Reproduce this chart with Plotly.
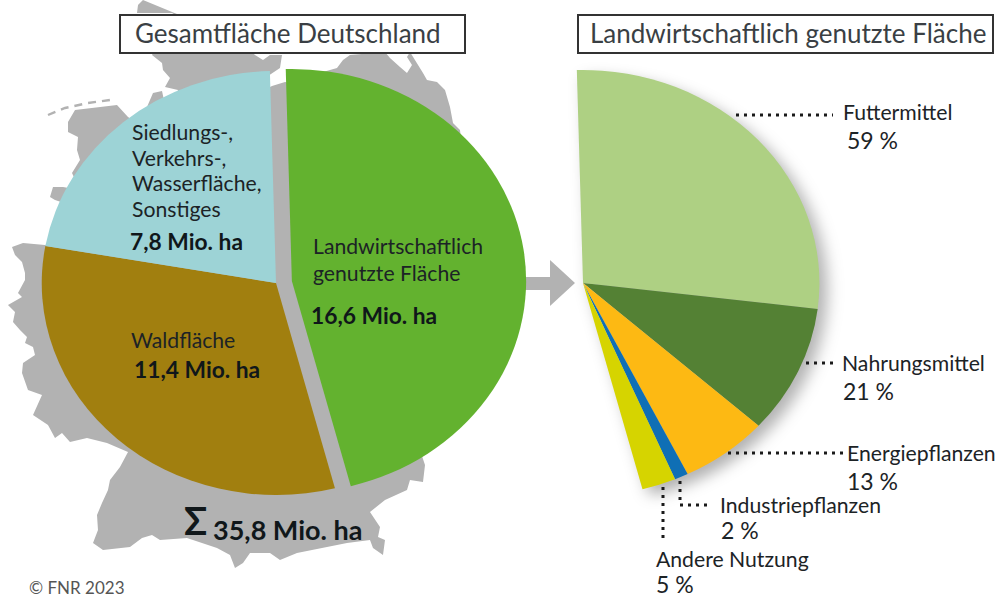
import plotly.graph_objects as go

# ---------- data ----------
land_labels = ["Landwirtschaftlich genutzte Fläche", "Waldfläche", "Siedlungs-, Verkehrs-, Wasserfläche, Sonstiges"]
land_values = [16.6, 11.4, 7.8]
land_colors = ["#63B22F", "#A17F0F", "#9DD3D6"]

use_labels = ["Futtermittel", "Nahrungsmittel", "Energiepflanzen", "Industriepflanzen", "Andere Nutzung"]
use_values = [59, 21, 13, 2, 5]
use_colors = ["#AED083", "#548134", "#FDB913", "#0F6FB5", "#D6D400"]

total_label = "35,8 Mio. ha"
titles = ["Gesamtfläche Deutschland", "Landwirtschaftlich genutzte Fläche"]
credit = "© FNR 2023"

# ---------- layout helpers (pixel positions on the 997x597 page) ----------
W, H = 997, 597
FONT = "Lato"
INK = "#1c2326"
GREY = "#B2B2B2"
ROT = -1.5


def px(x):
    return x / W


def py(y):
    return 1 - y / H


def svg_path(points, close=True):
    d = "M" + " L".join(f"{px(x):.5f},{py(y):.5f}" for x, y in points)
    return d + (" Z" if close else "")


def domain(cx, cy, r):
    return dict(x=[px(cx - r), px(cx + r)], y=[py(cy + r), py(cy - r)])


R_L, R_R = 212, 213
CX_L, CX_R = 276, 583
S_L, S_R = 1.105, 1.11       # the reference is drawn slightly wider than tall
pull = 14.5 / R_L
hidden = 100 * (sum(land_values) - land_values[0]) / land_values[0]

fig = go.Figure()
fig.add_trace(go.Pie(
    labels=land_labels, values=land_values, sort=False, direction="clockwise", rotation=ROT,
    pull=[pull, 0, 0], marker=dict(colors=land_colors, line=dict(width=0)),
    textinfo="none", hoverinfo="label+value", showlegend=False,
    domain=domain(CX_L, 283, R_L * (1 + pull)),
))
fig.add_trace(go.Pie(
    labels=use_labels + [""], values=use_values + [hidden], sort=False, direction="clockwise", rotation=ROT,
    marker=dict(colors=use_colors + ["rgba(0,0,0,0)"], line=dict(width=0)),
    textinfo="none", hoverinfo="label+value", showlegend=False,
    domain=domain(CX_R, 283, R_R),
))

germany = [
    (143, 0), (138, 5), (137, 13), (172, 13), (200, 30), (160, 40), (152, 55), (162, 63), (163, 70), (170, 78),
    (165, 87), (178, 90), (170, 115), (165, 105), (162, 91), (153, 93), (147, 107), (140, 125), (128, 117),
    (117, 105), (75, 110), (68, 122), (68, 132), (78, 137), (77, 150), (80, 160), (72, 173), (80, 190), (63, 187),
    (53, 187), (50, 197), (55, 200), (70, 205), (60, 243), (45, 245), (23, 243), (12, 247), (15, 255), (22, 262),
    (25, 273), (25, 280), (18, 293), (22, 297), (8, 305), (15, 312), (13, 322), (20, 330), (27, 337), (25, 343),
    (33, 347), (35, 355), (23, 363), (22, 373), (28, 390), (42, 395), (33, 415), (48, 425), (55, 438), (62, 433),
    (70, 442), (87, 438), (107, 443), (128, 452), (120, 467), (110, 480), (108, 490), (102, 503), (97, 515),
    (98, 530), (93, 543), (103, 550), (130, 547), (142, 538), (152, 535), (160, 540), (187, 538), (217, 548),
    (230, 555), (235, 568), (243, 563), (250, 553), (270, 553), (280, 560), (297, 553), (327, 547), (347, 543),
    (370, 540), (373, 548), (383, 555), (385, 540), (378, 537), (380, 527), (370, 512), (385, 500), (407, 490),
    (410, 480), (423, 482), (425, 465), (420, 450), (480, 300), (460, 130), (453, 123), (450, 107), (445, 90),
    (437, 82), (427, 80), (423, 73), (410, 52), (407, 57), (412, 65), (407, 73), (400, 67), (390, 58), (385, 52),
    (350, 55), (343, 60), (337, 68), (323, 72), (320, 90), (300, 84), (285, 82), (272, 86), (268, 88), (268, 76),
    (280, 68), (282, 55), (270, 55), (263, 60), (255, 55), (240, 40),
]
arrow = [(525, 277), (550, 277), (550, 260), (575, 283), (550, 306), (550, 290), (525, 290)]

shapes = [
    dict(type="path", path=svg_path(germany), xref="paper", yref="paper", fillcolor=GREY, line_width=0, layer="below"),
    dict(type="path", path=svg_path([(48, 115), (65, 108), (88, 103), (110, 100)], close=False), xref="paper",
         yref="paper", line=dict(color=GREY, width=2.4, dash="8px,6px"), layer="below"),
    dict(type="path", path=svg_path(arrow), xref="paper", yref="paper", fillcolor=GREY, line_width=0, layer="below"),
]
for x0, x1 in [(120, 465), (578, 993)]:
    shapes.append(dict(type="rect", xref="paper", yref="paper", x0=px(x0), x1=px(x1), y0=py(53), y1=py(15),
                       fillcolor="white", line=dict(color="#333333", width=2), layer="above"))

DOT = dict(color="#1a1a1a", width=3, dash="3px,5px")
for pts in [
    [(736, 115), (833, 115)],
    [(806, 363), (833, 363)],
    [(728, 453), (843, 453)],
    [(680, 481), (680, 505), (707, 505)],
    [(663, 487), (663, 538)],
]:
    shapes.append(dict(type="path", path=svg_path(pts, close=False), xref="paper", yref="paper", line=DOT, layer="above"))

notes = []


def note(text, x, y, size=21.2, bold=False, color=INK):
    notes.append(dict(text=f"<b>{text}</b>" if bold else text, x=px(x - 2), y=py(y), xref="paper", yref="paper",
                      xanchor="left", yanchor="middle", showarrow=False,
                      font=dict(family=FONT, size=size, color=color)))


def mio(v):
    return f"{v:.1f}".replace(".", ",") + " Mio. ha"


note(titles[0], 135, 33, 26, color="#3a3f44")
note(titles[1], 590, 33, 26, color="#3a3f44")
for i, line in enumerate(["Siedlungs-,", "Verkehrs-,", "Wasserfläche,", "Sonstiges"]):
    note(line, 132, 132 + i * 25.7)
note(mio(land_values[2]), 130, 241, 22.8, True, "#10171a")
note("Landwirtschaftlich", 313, 246)
note("genutzte Fläche", 313, 273)
note(mio(land_values[0]), 311, 315, 22.8, True, "#10171a")
note("Waldfläche", 131, 340)
note(mio(land_values[1]), 134, 369, 22.8, True, "#10171a")
note("Σ", 184, 520, 38, True, "#10171a")
note(total_label, 213, 529, 27, True, "#10171a")
note(credit, 29, 587, 17, color="#555555")

use_pos = [(843, 112, 847, 140), (842, 363, 843, 391), (847, 453, 847, 481), (720, 505, 721, 530), (656, 559, 656, 584)]
for name, val, (x1, y1, x2, y2) in zip(use_labels, use_values, use_pos):
    note(name, x1, y1)
    note(f"{val} %", x2, y2, 23)

fig.update_layout(width=W, height=H, margin=dict(l=0, r=0, t=0, b=0), paper_bgcolor="white",
                  shapes=shapes, annotations=notes, showlegend=False)

post = """
document.body.style.margin = '0';
var gd = document.getElementById('{plot_id}');
function stretch() {
  var ts = gd.querySelectorAll('.pielayer > .trace');
  [[%(cl)s, %(sl)s], [%(cr)s, %(sr)s]].forEach(function (c, i) {
    if (ts[i]) ts[i].setAttribute('transform',
      'translate(' + c[0] + ' 0) scale(' + c[1] + ' 1) translate(' + (-c[0]) + ' 0)');
  });
  if (ts[1]) ts[1].style.filter = 'drop-shadow(7px 7px 7px rgba(0,0,0,0.3))';
}
stretch();
gd.on('plotly_afterplot', stretch);
""" % {"cl": CX_L, "sl": S_L, "cr": CX_R, "sr": S_R}

fig.write_html("out.html", post_script=post, config={"displayModeBar": False})
